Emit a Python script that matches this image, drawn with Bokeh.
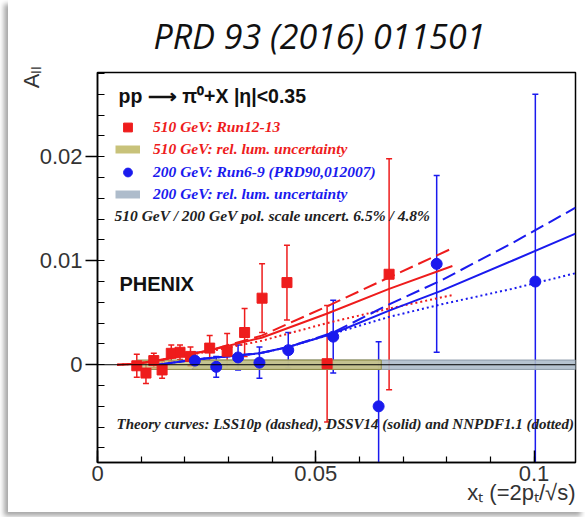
import numpy as np
from bokeh.plotting import figure
from bokeh.models import (ColumnDataSource, Whisker, TeeHead, Legend, LegendItem,
                          Label, Span, FixedTicker, Range1d, Title)
from bokeh.embed import file_html
from bokeh.resources import INLINE

# ---------------- data ----------------
title_text = "PRD 93 (2016) 011501"

# 510 GeV Run12-13 (red squares)
red_x = [0.0090, 0.0111, 0.0129, 0.0148, 0.0169, 0.0189, 0.0213, 0.0257,
         0.0297, 0.0337, 0.0377, 0.0434, 0.0526, 0.0668]
red_y = [-0.0001, -0.0008, 0.0004, -0.0005, 0.0011, 0.0012, 0.0008, 0.0016,
         0.0013, 0.0031, 0.0064, 0.0079, 0.0001, 0.0087]
red_err = [0.0011, 0.0010, 0.0007, 0.0008, 0.0008, 0.0007, 0.0009, 0.0012,
           0.0017, 0.0023, 0.0033, 0.0036, 0.0056, 0.0111]

# 200 GeV Run6-9 (blue circles)
blue_x = [0.0223, 0.0272, 0.0322, 0.0371, 0.0437, 0.0540, 0.0644, 0.0777, 0.1003]
blue_y = [0.0004, -0.0002, 0.0007, 0.0002, 0.0014, 0.0027, -0.0040, 0.0097, 0.0080]
blue_err = [0.0008, 0.0010, 0.0012, 0.0015, 0.0017, 0.0035, 0.0062, 0.0085, 0.0180]

# theory curves, 510 GeV
th510_x = [0.0045, 0.0090, 0.0150, 0.0258, 0.0376, 0.0525, 0.0668, 0.0813]
th510_lss = [0.0, 0.0001, 0.0005, 0.0014, 0.0028, 0.0056, 0.0084, 0.0112]
th510_dssv = [0.0, 0.0001, 0.0005, 0.0014, 0.0026, 0.0049, 0.0073, 0.0095]
th510_nnpdf = [0.0, 0.0001, 0.0005, 0.0013, 0.0023, 0.0040, 0.0054, 0.0067]

# theory curves, 200 GeV
th200_x = [0.0140, 0.0223, 0.0371, 0.0437, 0.0540, 0.0668, 0.0787, 0.0950, 0.1095]
th200_lss = [0.0, 0.0005, 0.0011, 0.0017, 0.0031, 0.0058, 0.0081, 0.0117, 0.0151]
th200_dssv = [0.0, 0.0005, 0.0011, 0.0017, 0.0030, 0.0052, 0.0071, 0.0100, 0.0126]
th200_nnpdf = [0.0, 0.0005, 0.0011, 0.0017, 0.0030, 0.0046, 0.0058, 0.0073, 0.0088]

# relative luminosity uncertainty bands
band510_x = [0.0090, 0.0650]
band510_half = 0.00045
band200_x = [0.0220, 0.1095]
band200_half = 0.00045

x_ticks = [0, 0.05, 0.1]
x_tick_labels = ["0", "0.05", "0.1"]
y_ticks = [0, 0.01, 0.02]
y_tick_labels = ["0", "0.01", "0.02"]

x_title = "x\u209c (=2p\u209c/\u221as)"
y_title = "A\u2097\u2097"
legend_labels = ["510 GeV: Run12-13", "510 GeV: rel. lum. uncertainty",
                 "200 GeV: Run6-9 (PRD90,012007)", "200 GeV: rel. lum. uncertainty"]
header_text = "pp \u27f6 \u03c0\u2070+X  |\u03b7|<0.35"
scale_text = "510 GeV / 200 GeV pol. scale uncert. 6.5% / 4.8%"
theory_text = "Theory curves: LSS10p (dashed), DSSV14 (solid) and NNPDF1.1 (dotted)"

# ---------------- style ----------------
RED = "#ee1c1c"
BLUE = "#1a1aee"
OLIVE = "#c8c27a"
GREY = "#aebccb"
SERIF = "Liberation Serif"
SANS = "Liberation Sans"

XMIN, XMAX = 0.0, 0.1095
YMIN, YMAX = -0.0094, 0.0281

# ---------------- figure ----------------
p = figure(width=577, height=512, output_backend="svg", toolbar_location=None,
           x_range=Range1d(XMIN, XMAX), y_range=Range1d(YMIN, YMAX),
           title=title_text,
           min_border_left=89, min_border_right=10, min_border_top=72,
           min_border_bottom=50)
p.margin = (0, 0, 0, 8)
p.styles = {"box-shadow": "-4px 4px 5px rgba(0,0,0,0.35)"}
p.title.align = "left"
p.title.offset = 56
p.title.standoff = 24
p.title.vertical_align = "top"
p.title.text_font = "Open Sans"
p.title.text_font_style = "italic"
p.title.text_font_size = "34px"
p.title.text_color = "#111111"
p.xgrid.visible = False
p.ygrid.visible = False
p.outline_line_color = "black"
p.outline_line_width = 1.5
p.outline_line_alpha = 1.0

# bands
b510 = ColumnDataSource(dict(left=[band510_x[0]], right=[band510_x[1]],
                             bottom=[-band510_half], top=[band510_half]))
b200 = ColumnDataSource(dict(left=[band200_x[0]], right=[band200_x[1]],
                             bottom=[-band200_half], top=[band200_half]))
p.quad(source=b200, left="left", right="right", bottom="bottom", top="top",
       fill_color=GREY, fill_alpha=0.9, line_color="#8c9aa8", line_width=1)
p.quad(source=b510, left="left", right="right", bottom="bottom", top="top",
       fill_color=OLIVE, fill_alpha=0.75, line_color="#8d8a45", line_width=1)

p.add_layout(Span(location=0, dimension="width", line_color="black", line_width=1))

# theory curves
p.line(th510_x, th510_lss, line_color=RED, line_width=2, line_dash="14 6")
p.line(th510_x, th510_dssv, line_color=RED, line_width=2)
p.line(th510_x, th510_nnpdf, line_color=RED, line_width=2, line_dash="2 3")
p.line(th200_x, th200_lss, line_color=BLUE, line_width=2, line_dash="14 6")
p.line(th200_x, th200_dssv, line_color=BLUE, line_width=2)
p.line(th200_x, th200_nnpdf, line_color=BLUE, line_width=2, line_dash="2 3")

# data
rs = ColumnDataSource(dict(x=red_x, y=red_y,
                           lo=[y - e for y, e in zip(red_y, red_err)],
                           hi=[y + e for y, e in zip(red_y, red_err)]))
bs = ColumnDataSource(dict(x=blue_x, y=blue_y,
                           lo=[y - e for y, e in zip(blue_y, blue_err)],
                           hi=[y + e for y, e in zip(blue_y, blue_err)]))

for src, col in ((rs, RED), (bs, BLUE)):
    w = Whisker(source=src, base="x", upper="hi", lower="lo", dimension="height",
                line_color=col, line_width=1.5,
                upper_head=TeeHead(size=6, line_color=col, line_width=1.5),
                lower_head=TeeHead(size=6, line_color=col, line_width=1.5))
    p.add_layout(w)

r_red = p.scatter("x", "y", source=rs, marker="square", size=10,
                  fill_color=RED, line_color=RED)
r_blue = p.scatter("x", "y", source=bs, marker="circle", size=11,
                   fill_color=BLUE, line_color=BLUE)

# legend swatches for the bands: thick single-point lines on the band sources
# (a one-point line draws nothing in the plot, only in the legend)
px510 = p.line(x="left", y="top", source=b510, line_color=OLIVE, line_width=8)
px200 = p.line(x="left", y="top", source=b200, line_color=GREY, line_width=8)

common = dict(border_line_color=None, background_fill_alpha=0, padding=0,
              margin=0, spacing=0, glyph_width=25, glyph_height=22,
              label_height=22, label_standoff=13,
              label_text_font=SERIF, label_text_font_style="bold italic",
              label_text_font_size="15.5px")
leg_red = Legend(items=[LegendItem(label=legend_labels[0], renderers=[r_red]),
                        LegendItem(label=legend_labels[1], renderers=[px510])],
                 location=(18, 302), label_text_color=RED, **common)
leg_blue = Legend(items=[LegendItem(label=legend_labels[2], renderers=[r_blue]),
                         LegendItem(label=legend_labels[3], renderers=[px200])],
                  location=(18, 257), label_text_color=BLUE, **common)
p.add_layout(leg_red)
p.add_layout(leg_blue)

# texts inside frame
p.add_layout(Label(x=XMIN, y=YMAX, x_offset=21, y_offset=-23, text=header_text,
                   text_align="left", text_baseline="middle",
                   text_font=SANS, text_font_style="bold",
                   text_font_size="19.5px", text_color="#111111"))
p.add_layout(Label(x=XMIN, y=YMAX, x_offset=17, y_offset=-143, text=scale_text,
                   text_align="left", text_baseline="middle",
                   text_font=SERIF, text_font_style="bold italic",
                   text_font_size="15.5px", text_color="#222222"))
p.add_layout(Label(x=XMIN, y=YMAX, x_offset=22, y_offset=-211, text="PHENIX",
                   text_align="left", text_baseline="middle",
                   text_font=SANS, text_font_style="bold",
                   text_font_size="20px", text_color="#111111"))
p.add_layout(Label(x=XMIN, y=YMIN, x_offset=19, y_offset=39, text=theory_text,
                   text_align="left", text_baseline="middle",
                   text_font=SERIF, text_font_style="bold italic",
                   text_font_size="15px", text_color="#222222"))

# axes
p.xaxis.ticker = FixedTicker(ticks=x_ticks,
                             minor_ticks=[float(v) for v in np.round(np.arange(0.0, 0.1095, 0.01), 3)])
p.xaxis.major_label_overrides = dict(zip(x_ticks, x_tick_labels))
p.yaxis.ticker = FixedTicker(ticks=y_ticks,
                             minor_ticks=[float(v) for v in np.round(np.arange(-0.008, 0.0281, 0.002), 4)])
p.yaxis.major_label_overrides = dict(zip(y_ticks, y_tick_labels))
for ax in (p.xaxis[0], p.yaxis[0]):
    ax.axis_line_color = "black"
    ax.axis_line_width = 1.5
    ax.major_tick_line_color = "black"
    ax.minor_tick_line_color = "black"
    ax.major_tick_line_width = 1.5
    ax.minor_tick_line_width = 1.2
    ax.major_label_text_font = SANS
    ax.major_label_text_font_size = "22px"
    ax.major_label_text_color = "#333333"
p.xaxis.major_tick_in = 12
p.xaxis.major_tick_out = 0
p.xaxis.minor_tick_in = 6
p.xaxis.minor_tick_out = 0
p.xaxis.major_label_standoff = 3
p.yaxis.major_tick_in = 0
p.yaxis.major_tick_out = 12
p.yaxis.minor_tick_in = 7
p.yaxis.minor_tick_out = 0
p.yaxis.major_label_standoff = 3

# axis titles as side-panel titles (right/top aligned like the ROOT original)
p.add_layout(Title(text=x_title, align="right", standoff=-12,
                   text_font=SANS, text_font_size="22px", text_font_style="normal",
                   text_color="#333333"), "below")
p.add_layout(Title(text=y_title, align="right", offset=-7, standoff=-14,
                   text_font=SANS, text_font_size="22px", text_font_style="normal",
                   text_color="#333333"), "left")

open("out.html", "w").write(file_html(p, INLINE))
